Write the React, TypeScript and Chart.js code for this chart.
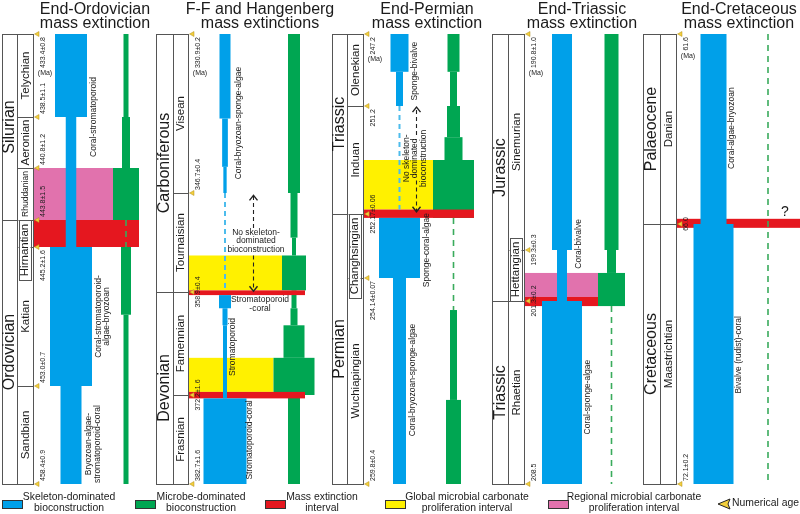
import React, { useEffect, useRef } from "react";
import { Chart, LinearScale, registerables } from "chart.js";

Chart.register(...registerables);

// ---------------- DATA ----------------
// Panel 1: End-Ordovician
const ORD_TITLE = ["End-Ordovician", "mass extinction"];
const ORD_BOUNDARIES = [433.4, 438.5, 440.8, 443.8, 445.2, 453.0, 458.4];
const ORD_AGE_LABELS = ["433.4±0.8", "438.5±1.1", "440.8±1.2", "443.8±1.5", "445.2±1.6", "453.0±0.7", "458.4±0.9"];
const ORD_SYSTEMS = [
  { name: "Silurian", from: 433.4, to: 443.8 },
  { name: "Ordovician", from: 443.8, to: 458.4 },
];
const ORD_STAGES = [
  { name: "Telychian", from: 433.4, to: 438.5 },
  { name: "Aeronian", from: 438.5, to: 440.8 },
  { name: "Rhuddanian", from: 440.8, to: 443.8 },
  { name: "Hirnantian", from: 443.8, to: 445.2 },
  { name: "Katian", from: 445.2, to: 453.0 },
  { name: "Sandbian", from: 453.0, to: 458.4 },
];
// [from age, to age, relative extent]
const ORD_SKELETON = [[433.4, 438.5, 32], [438.5, 445.2, 10.5], [445.2, 453.0, 42], [453.0, 458.4, 21]];
const ORD_SKELETON_ABSENT: number[][] = [];
const ORD_MICROBE = [[433.4, 438.5, 5], [438.5, 440.8, 8], [440.8, 443.8, 26], [445.2, 449.0, 10], [449.0, 458.4, 5]];
const ORD_MICROBE_UNCERTAIN = [[443.8, 445.2]];
const ORD_EXTINCTION = [[443.8, 445.2]];
const ORD_GLOBAL: number[][] = [];
const ORD_REGIONAL = [[440.8, 443.8]];
const ORD_NOTES = [
  { lines: ["Coral-stromatoporoid"], age: 438.5, x: 93.5, rot: true },
  { lines: ["Coral-stromatoporoid-", "algae-bryozoan"], age: 449.1, x: 102.5, rot: true },
  { lines: ["Bryozoan-algae-", "stromatoporoid-coral"], age: 456.2, x: 93, rot: true },
];

// Panel 2: F-F and Hangenberg
const DEV_TITLE = ["F-F and Hangenberg", "mass extinctions"];
const DEV_BOUNDARIES = [330.9, 346.7, 358.9, 372.2, 382.7];
const DEV_AGE_LABELS = ["330.9±0.2", "346.7±0.4", "358.9±0.4", "372.2±1.6", "382.7±1.6"];
const DEV_SYSTEMS = [
  { name: "Carboniferous", from: 330.9, to: 358.9 },
  { name: "Devonian", from: 358.9, to: 382.7 },
];
const DEV_STAGES = [
  { name: "Visean", from: 330.9, to: 346.7 },
  { name: "Tournaisian", from: 346.7, to: 358.9 },
  { name: "Famennian", from: 358.9, to: 372.2 },
  { name: "Frasnian", from: 372.2, to: 382.7 },
];
const DEV_SKELETON = [
  [330.9, 339.3, 11], [339.3, 344.1, 5.7], [344.1, 346.7, 3.3],
  [359.3, 361.0, 12], [361.0, 363.2, 5], [363.2, 372.6, 4], [372.6, 382.7, 43],
];
const DEV_SKELETON_ABSENT = [[346.7, 358.7]];
const DEV_MICROBE = [
  [330.9, 346.7, 12], [346.7, 352.2, 7], [352.2, 354.4, 4], [354.4, 358.7, 24],
  [358.7, 361.0, 5], [361.0, 363.2, 7], [363.2, 367.4, 21], [367.4, 372.2, 41], [372.2, 382.7, 12],
];
const DEV_MICROBE_UNCERTAIN: number[][] = [];
const DEV_EXTINCTION = [[358.7, 359.3], [371.8, 372.6]];
const DEV_GLOBAL = [[354.4, 358.7], [367.4, 371.8]];
const DEV_REGIONAL: number[][] = [];
const DEV_NOTES = [
  { lines: ["Coral-bryozoan-sponge-algae"], age: 339.75, x: 238.5, rot: true },
  { lines: ["No skeleton-", "dominated", "bioconstruction"], age: 352.6, x: 256, rot: false },
  { lines: ["Stromatoporoid", "-coral"], age: 360.45, x: 260, rot: false },
  { lines: ["Stromatoporoid"], age: 366.0, x: 233, rot: true },
  { lines: ["Stromatoporoid-coral"], age: 377.5, x: 250, rot: true },
];
const DEV_ARROWS = [
  { x: 253, from: 351.0, to: 347.0 },
  { x: 253, from: 354.4, to: 358.8 },
];

// Panel 3: End-Permian
const PER_TITLE = ["End-Permian", "mass extinction"];
const PER_BOUNDARIES = [247.2, 251.2, 252.17, 254.14, 259.8];
const PER_AGE_LABELS = ["247.2", "251.2", "252.17±0.06", "254.14±0.07", "259.8±0.4"];
const PER_SYSTEMS = [
  { name: "Triassic", from: 247.2, to: 252.17 },
  { name: "Permian", from: 252.17, to: 259.8 },
];
const PER_STAGES = [
  { name: "Olenekian", from: 247.2, to: 251.2 },
  { name: "Induan", from: 251.2, to: 252.17 },
  { name: "Changhsingian", from: 252.17, to: 254.14 },
  { name: "Wuchiapingian", from: 254.14, to: 259.8 },
];
const PER_SKELETON = [[247.2, 249.3, 18], [249.3, 251.2, 7], [252.29, 254.14, 41], [254.14, 259.8, 13]];
const PER_SKELETON_ABSENT = [[251.2, 252.13]];
const PER_MICROBE = [
  [247.2, 249.3, 12], [249.3, 251.2, 7], [251.2, 251.48, 13], [251.48, 251.685, 18],
  [251.685, 252.29, 41], [255.02, 257.49, 7], [257.49, 259.8, 15],
];
const PER_MICROBE_UNCERTAIN = [[252.29, 255.02]];
const PER_EXTINCTION = [[252.13, 252.29]];
const PER_GLOBAL = [[251.685, 252.13]];
const PER_REGIONAL: number[][] = [];
const PER_NOTES = [
  { lines: ["Sponge-bivalve"], age: 249.26, x: 415, rot: true },
  { lines: ["No skeleton-", "dominated", "bioconstruction"], age: 251.67, x: 415, rot: true },
  { lines: ["Sponge-coral-algae"], age: 253.28, x: 427, rot: true },
  { lines: ["Coral-bryozoan-sponge-algae"], age: 256.94, x: 413, rot: true },
];
const PER_ARROWS = [
  { x: 416, from: 251.46, to: 251.21 },
  { x: 416, from: 251.87, to: 252.15 },
];

// Panel 4: End-Triassic
const TRI_TITLE = ["End-Triassic", "mass extinction"];
const TRI_BOUNDARIES = [190.8, 199.3, 201.3, 208.5];
const TRI_AGE_LABELS = ["190.8±1.0", "199.3±0.3", "201.3±0.2", "208.5"];
const TRI_SYSTEMS = [
  { name: "Jurassic", from: 190.8, to: 201.3 },
  { name: "Triassic", from: 201.3, to: 208.5 },
];
const TRI_STAGES = [
  { name: "Sinemurian", from: 190.8, to: 199.3 },
  { name: "Hettangian", from: 199.3, to: 201.3 },
  { name: "Rhaetian", from: 201.3, to: 208.5 },
];
const TRI_SKELETON = [[190.8, 199.3, 20], [199.3, 201.3, 10], [201.3, 208.5, 40]];
const TRI_SKELETON_ABSENT: number[][] = [];
const TRI_MICROBE = [[190.8, 199.3, 14], [199.3, 200.2, 9], [200.2, 201.5, 27]];
const TRI_MICROBE_UNCERTAIN = [[201.5, 208.5]];
const TRI_EXTINCTION = [[201.14, 201.5]];
const TRI_GLOBAL: number[][] = [];
const TRI_REGIONAL = [[200.2, 201.14]];
const TRI_NOTES = [
  { lines: ["Coral-bivalve"], age: 199.06, x: 579, rot: true },
  { lines: ["Coral-sponge-algae"], age: 205.08, x: 588, rot: true },
];

// Panel 5: End-Cretaceous
const CRE_TITLE = ["End-Cretaceous", "mass extinction"];
const CRE_BOUNDARIES = [61.6, 66.0, 72.1];
const CRE_AGE_LABELS = ["61.6", "66.0", "72.1±0.2"];
const CRE_SYSTEMS = [
  { name: "Palaeocene", from: 61.6, to: 66.0 },
  { name: "Cretaceous", from: 66.0, to: 72.1 },
];
const CRE_STAGES = [
  { name: "Danian", from: 61.6, to: 66.0 },
  { name: "Maastrichtian", from: 66.0, to: 72.1 },
];
const CRE_SKELETON = [[61.6, 66.0, 26], [66.0, 72.1, 40]];
const CRE_SKELETON_ABSENT: number[][] = [];
const CRE_MICROBE: number[][] = [];
const CRE_MICROBE_UNCERTAIN = [[61.6, 72.1]];
const CRE_EXTINCTION = [[65.88, 66.09]];
const CRE_GLOBAL: number[][] = [];
const CRE_REGIONAL: number[][] = [];
const CRE_NOTES = [
  { lines: ["Coral-algae-bryozoan"], age: 63.78, x: 732, rot: true },
  { lines: ["Bivalve (rudist)-coral"], age: 69.07, x: 739, rot: true },
  { lines: ["?"], age: 65.72, x: 785, rot: false, size: 14 },
];

const LEGEND_TEXT = [
  ["Skeleton-dominated", "bioconstruction"],
  ["Microbe-dominated", "bioconstruction"],
  ["Mass extinction", "interval"],
  ["Global microbial carbonate", "proliferation interval"],
  ["Regional microbial carbonate", "proliferation interval"],
  ["Numerical age"],
];

// ---------------- STYLE / LAYOUT ----------------
const BLUE = "#00a0e9";
const BLUE_DASH = "#4dbcec";
const GREEN = "#00a652";
const GREEN_DASH = "#3aab5c";
const RED = "#e5171f";
const YELLOW = "#fff100";
const PINK = "#e172ad";
const AGE_MARK = "#f2cf3c";
const TEXT = "#1b1b1b";
const LINE = "#555555";
const FONT = '"Liberation Sans", Arial, Helvetica, sans-serif';
const fnt = (s: number) => `${s}px ${FONT}`;

const LEGEND_COLORS = [BLUE, GREEN, RED, YELLOW, PINK, AGE_MARK];
const LEGEND_FONT = 10.4;
const LEGEND_LAYOUT = [
  { sw: 2, tx: 69 }, { sw: 135, tx: 201 }, { sw: 265, tx: 322 },
  { sw: 385, tx: 467 }, { sw: 548, tx: 634 }, { sw: 718, tx: 732 },
];

const ORD_LAYOUT = {
  col: [2, 17, 33], skeletonX: 71, microbeX: 126, titleX: 95,
  heights: [83, 51, 52, 27, 139, 98],
  ageAlign: ["below", "above", "above", "above", "below", "above", "above"],
  extinctionRight: [139], globalRight: [] as number[], regionalRight: [113],
  boxes: { Hirnantian: { up: 0, down: 33 } } as any,
  stageFont: { Rhuddanian: 8.5 } as any,
};
const DEV_LAYOUT = {
  col: [156, 173, 188], skeletonX: 225, microbeX: 294, titleX: 260,
  heights: [159, 99, 103, 89],
  ageAlign: ["below", "above", "center", "center", "above"],
  extinctionRight: [305, 305], globalRight: [282, 273.5], regionalRight: [] as number[],
  boxes: {} as any, stageFont: {} as any,
};
const PER_LAYOUT = {
  col: [332, 347, 363], skeletonX: 399.5, microbeX: 453.5, titleX: 427,
  heights: [72, 108, 64, 206],
  ageAlign: ["below", "below", "center", "below", "above"],
  extinctionRight: [474], globalRight: [433], regionalRight: [] as number[],
  boxes: { Changhsingian: { up: 0, down: 20 } } as any, stageFont: {} as any,
};
const TRI_LAYOUT = {
  col: [492, 508, 524], skeletonX: 562, microbeX: 611.5, titleX: 582,
  heights: [216, 51, 183],
  ageAlign: ["below", "center", "center", "above"],
  extinctionRight: [598], globalRight: [] as number[], regionalRight: [598],
  boxes: { Hettangian: { up: 12, down: 0 } } as any, stageFont: {} as any,
};
const CRE_LAYOUT = {
  col: [643, 660, 676], skeletonX: 713.5, microbeX: 768, titleX: 739,
  heights: [190, 260],
  ageAlign: ["below", "center", "above"],
  extinctionRight: [800], globalRight: [] as number[], regionalRight: [] as number[],
  boxes: {} as any, stageFont: {} as any,
};

const PANELS = [
  { title: ORD_TITLE, boundaries: ORD_BOUNDARIES, ageLabels: ORD_AGE_LABELS, systems: ORD_SYSTEMS, stages: ORD_STAGES,
    skeleton: ORD_SKELETON, skeletonAbsent: ORD_SKELETON_ABSENT, microbe: ORD_MICROBE, microbeUncertain: ORD_MICROBE_UNCERTAIN,
    extinction: ORD_EXTINCTION, global: ORD_GLOBAL, regional: ORD_REGIONAL, notes: ORD_NOTES, arrows: [] as any[], layout: ORD_LAYOUT },
  { title: DEV_TITLE, boundaries: DEV_BOUNDARIES, ageLabels: DEV_AGE_LABELS, systems: DEV_SYSTEMS, stages: DEV_STAGES,
    skeleton: DEV_SKELETON, skeletonAbsent: DEV_SKELETON_ABSENT, microbe: DEV_MICROBE, microbeUncertain: DEV_MICROBE_UNCERTAIN,
    extinction: DEV_EXTINCTION, global: DEV_GLOBAL, regional: DEV_REGIONAL, notes: DEV_NOTES, arrows: DEV_ARROWS, layout: DEV_LAYOUT },
  { title: PER_TITLE, boundaries: PER_BOUNDARIES, ageLabels: PER_AGE_LABELS, systems: PER_SYSTEMS, stages: PER_STAGES,
    skeleton: PER_SKELETON, skeletonAbsent: PER_SKELETON_ABSENT, microbe: PER_MICROBE, microbeUncertain: PER_MICROBE_UNCERTAIN,
    extinction: PER_EXTINCTION, global: PER_GLOBAL, regional: PER_REGIONAL, notes: PER_NOTES, arrows: PER_ARROWS, layout: PER_LAYOUT },
  { title: TRI_TITLE, boundaries: TRI_BOUNDARIES, ageLabels: TRI_AGE_LABELS, systems: TRI_SYSTEMS, stages: TRI_STAGES,
    skeleton: TRI_SKELETON, skeletonAbsent: TRI_SKELETON_ABSENT, microbe: TRI_MICROBE, microbeUncertain: TRI_MICROBE_UNCERTAIN,
    extinction: TRI_EXTINCTION, global: TRI_GLOBAL, regional: TRI_REGIONAL, notes: TRI_NOTES, arrows: [] as any[], layout: TRI_LAYOUT },
  { title: CRE_TITLE, boundaries: CRE_BOUNDARIES, ageLabels: CRE_AGE_LABELS, systems: CRE_SYSTEMS, stages: CRE_STAGES,
    skeleton: CRE_SKELETON, skeletonAbsent: CRE_SKELETON_ABSENT, microbe: CRE_MICROBE, microbeUncertain: CRE_MICROBE_UNCERTAIN,
    extinction: CRE_EXTINCTION, global: CRE_GLOBAL, regional: CRE_REGIONAL, notes: CRE_NOTES, arrows: [] as any[], layout: CRE_LAYOUT },
];

// ---------------- STAGE (piecewise) SCALE ----------------
const STAGE_MAPS: Record<string, { ages: number[]; heights: number[] }> = {};
PANELS.forEach((p, i) => {
  STAGE_MAPS["y" + i] = { ages: p.boundaries, heights: p.layout.heights };
});

class StageScale extends LinearScale {
  static id = "stage";
  static defaults = {};
  getPixelForValue(value: number) {
    const m = STAGE_MAPS[(this as any).id];
    if (!m || value === null || value === undefined || isNaN(value)) return super.getPixelForValue(value);
    const { ages, heights } = m;
    const total = heights.reduce((a, b) => a + b, 0);
    let acc = 0;
    for (let i = 0; i < ages.length - 1; i++) {
      if (value <= ages[i + 1] || i === ages.length - 2) {
        const f = (value - ages[i]) / (ages[i + 1] - ages[i]);
        return (this as any).getPixelForDecimal((acc + f * heights[i]) / total);
      }
      acc += heights[i];
    }
    return super.getPixelForValue(value);
  }
  getValueForPixel(pixel: number) {
    const m = STAGE_MAPS[(this as any).id];
    if (!m) return super.getValueForPixel(pixel);
    const { ages, heights } = m;
    const total = heights.reduce((a, b) => a + b, 0);
    const d = (this as any).getDecimalForPixel(pixel) * total;
    let acc = 0;
    for (let i = 0; i < heights.length; i++) {
      if (d <= acc + heights[i] || i === heights.length - 1) {
        return ages[i] + ((d - acc) / heights[i]) * (ages[i + 1] - ages[i]);
      }
      acc += heights[i];
    }
    return ages[ages.length - 1];
  }
}
Chart.register(StageScale as any);

// ---------------- DRAWING ----------------
function vText(ctx: CanvasRenderingContext2D, text: string, x: number, y: number, align: CanvasTextAlign = "center") {
  ctx.save();
  ctx.translate(x, y);
  ctx.rotate(-Math.PI / 2);
  ctx.textAlign = align;
  ctx.textBaseline = "middle";
  ctx.fillText(text, 0, 0);
  ctx.restore();
}

function drawPanel(ctx: CanvasRenderingContext2D, ys: any, X: (v: number) => number, p: any) {
  const Y = (a: number) => ys.getPixelForValue(a);
  const L = p.layout;
  const [cL, cM, cR] = L.col.map(X);
  const top = Y(p.boundaries[0]);
  const bottom = Y(p.boundaries[p.boundaries.length - 1]);

  // titles
  ctx.fillStyle = TEXT;
  ctx.font = fnt(16);
  ctx.textAlign = "center";
  ctx.textBaseline = "alphabetic";
  ctx.fillText(p.title[0], X(L.titleX), 14);
  ctx.fillText(p.title[1], X(L.titleX), 28);

  const band = (b: number[], right: number, color: string) => {
    ctx.fillStyle = color;
    const y0 = Y(b[0]), y1 = Y(b[1]);
    ctx.fillRect(cR, y0, X(right) - cR, y1 - y0);
  };
  const column = (s: number[], cx: number, color: string) => {
    const x0 = X(cx - s[2] / 2), x1 = X(cx + s[2] / 2);
    const y0 = Y(s[0]), y1 = Y(s[1]);
    ctx.fillStyle = color;
    ctx.fillRect(x0, y0, x1 - x0, y1 - y0);
  };
  const dashed = (s: number[], cx: number, color: string, w: number, dash: number[]) => {
    ctx.save();
    ctx.strokeStyle = color;
    ctx.lineWidth = w;
    ctx.setLineDash(dash);
    ctx.beginPath();
    ctx.moveTo(X(cx), Y(s[0]));
    ctx.lineTo(X(cx), Y(s[1]));
    ctx.stroke();
    ctx.restore();
  };

  p.global.forEach((b: number[], k: number) => band(b, L.globalRight[k], YELLOW));
  p.regional.forEach((b: number[], k: number) => band(b, L.regionalRight[k], PINK));
  p.microbe.forEach((s: number[]) => column(s, L.microbeX, GREEN));
  p.extinction.forEach((b: number[], k: number) => band(b, L.extinctionRight[k], RED));
  p.microbeUncertain.forEach((s: number[]) => dashed(s, L.microbeX, GREEN_DASH, 1.6, [6, 5]));
  p.skeleton.forEach((s: number[]) => column(s, L.skeletonX, BLUE));
  p.skeletonAbsent.forEach((s: number[]) => dashed(s, L.skeletonX, BLUE_DASH, 2, [5, 4]));

  // stratigraphic column
  ctx.fillStyle = "#ffffff";
  ctx.fillRect(cL, top, cR - cL, bottom - top);
  ctx.strokeStyle = LINE;
  ctx.lineWidth = 1;
  ctx.strokeRect(cL + 0.5, top + 0.5, cR - cL, bottom - top);
  ctx.beginPath();
  ctx.moveTo(cM + 0.5, top);
  ctx.lineTo(cM + 0.5, bottom);
  p.systems.slice(0, -1).forEach((s: any) => {
    const y = Math.round(Y(s.to)) + 0.5;
    ctx.moveTo(cL, y);
    ctx.lineTo(cR, y);
  });
  p.stages.slice(0, -1).forEach((s: any) => {
    const y = Math.round(Y(s.to)) + 0.5;
    ctx.moveTo(cM, y);
    ctx.lineTo(cR, y);
  });
  ctx.stroke();

  // system names
  ctx.fillStyle = TEXT;
  ctx.font = fnt(16);
  p.systems.forEach((s: any) => vText(ctx, s.name, (cL + cM) / 2 + 0.5, (Y(s.from) + Y(s.to)) / 2));

  // stage names (some in boxes)
  p.stages.forEach((s: any) => {
    const box = L.boxes[s.name];
    let y0 = Y(s.from), y1 = Y(s.to);
    let cx = (cM + cR) / 2 + 0.5;
    if (box) {
      y0 -= box.up;
      y1 += box.down;
      const bx0 = cM + 1.5, bx1 = cR - 2.5;
      ctx.fillStyle = "#ffffff";
      ctx.fillRect(bx0, y0, bx1 - bx0, y1 - y0);
      ctx.strokeStyle = LINE;
      ctx.lineWidth = 1;
      ctx.strokeRect(Math.round(bx0) + 0.5, Math.round(y0) + 0.5, Math.round(bx1 - bx0), Math.round(y1 - y0));
      cx = (bx0 + bx1) / 2 + 0.5;
    }
    ctx.fillStyle = TEXT;
    ctx.font = fnt(L.stageFont[s.name] || 11.5);
    vText(ctx, s.name, cx, (y0 + y1) / 2);
  });

  // numerical age marks and labels
  const ax = cR + 10;
  p.boundaries.forEach((a: number) => {
    const y = Y(a);
    ctx.fillStyle = AGE_MARK;
    ctx.strokeStyle = "#b08d1c";
    ctx.lineWidth = 0.5;
    ctx.beginPath();
    ctx.moveTo(cR + 1.5, y);
    ctx.lineTo(cR + 6, y - 2.5);
    ctx.lineTo(cR + 6, y + 2.5);
    ctx.closePath();
    ctx.fill();
    ctx.stroke();
  });
  ctx.fillStyle = TEXT;
  ctx.font = fnt(7);
  p.boundaries.forEach((a: number, k: number) => {
    const y = Y(a);
    const al = L.ageAlign[k];
    if (al === "below") vText(ctx, p.ageLabels[k], ax, y + 3, "right");
    else if (al === "above") vText(ctx, p.ageLabels[k], ax, y - 3, "left");
    else vText(ctx, p.ageLabels[k], ax, y, "center");
  });
  const w0 = ctx.measureText(p.ageLabels[0]).width;
  ctx.font = fnt(7);
  ctx.textAlign = "center";
  ctx.textBaseline = "middle";
  ctx.fillText("(Ma)", ax + 2, top + 3 + w0 + 5);

  // annotations
  p.notes.forEach((n: any) => {
    const size = n.size || 8.5;
    const lh = 8.5;
    ctx.fillStyle = TEXT;
    ctx.font = fnt(size);
    const y = Y(n.age);
    const cnt = n.lines.length;
    n.lines.forEach((t: string, j: number) => {
      const off = (j - (cnt - 1) / 2) * lh;
      if (n.rot) vText(ctx, t, X(n.x) + off, y);
      else {
        ctx.textAlign = "center";
        ctx.textBaseline = "middle";
        ctx.fillText(t, X(n.x), y + off);
      }
    });
  });

  // arrows
  p.arrows.forEach((ar: any) => {
    const x = X(ar.x) + 0.5;
    const y0 = Y(ar.from), y1 = Y(ar.to);
    const dir = y1 > y0 ? 1 : -1;
    ctx.save();
    ctx.strokeStyle = "#222";
    ctx.lineWidth = 1.1;
    ctx.setLineDash([4, 3]);
    ctx.beginPath();
    ctx.moveTo(x, y0);
    ctx.lineTo(x, y1);
    ctx.stroke();
    ctx.setLineDash([]);
    ctx.lineWidth = 1.4;
    ctx.beginPath();
    ctx.moveTo(x - 4, y1 - dir * 5);
    ctx.lineTo(x, y1);
    ctx.lineTo(x + 4, y1 - dir * 5);
    ctx.stroke();
    ctx.restore();
  });
}

function drawLegend(ctx: CanvasRenderingContext2D) {
  LEGEND_TEXT.forEach((lines, i) => {
    const lay = LEGEND_LAYOUT[i];
    const color = LEGEND_COLORS[i];
    if (i === LEGEND_TEXT.length - 1) {
      ctx.fillStyle = color;
      ctx.strokeStyle = "#222";
      ctx.lineWidth = 1;
      ctx.beginPath();
      ctx.moveTo(lay.sw, 504);
      ctx.lineTo(lay.sw + 12, 499);
      ctx.lineTo(lay.sw + 10, 504);
      ctx.lineTo(lay.sw + 12, 509);
      ctx.closePath();
      ctx.fill();
      ctx.stroke();
      ctx.fillStyle = TEXT;
      ctx.font = fnt(LEGEND_FONT);
      ctx.textAlign = "left";
      ctx.textBaseline = "middle";
      ctx.fillText(lines[0], lay.tx, 503);
      return;
    }
    ctx.fillStyle = color;
    ctx.fillRect(lay.sw, 500, 20, 8);
    ctx.strokeStyle = "#333";
    ctx.lineWidth = 1;
    ctx.strokeRect(lay.sw + 0.5, 500.5, 20, 8);
    ctx.fillStyle = TEXT;
    ctx.font = fnt(LEGEND_FONT);
    ctx.textAlign = "center";
    ctx.textBaseline = "middle";
    ctx.fillText(lines[0], lay.tx, 497);
    ctx.fillText(lines[1], lay.tx, 508.5);
  });
}

const diagramPlugin = {
  id: "extinctionDiagram",
  afterDraw(chart: any) {
    const ctx: CanvasRenderingContext2D = chart.ctx;
    const xs = chart.scales.x;
    const X = (v: number) => xs.getPixelForValue(v);
    ctx.save();
    PANELS.forEach((p, i) => drawPanel(ctx, chart.scales["y" + i], X, p));
    drawLegend(ctx);
    ctx.restore();
  },
};

export default function App() {
  const ref = useRef<HTMLCanvasElement | null>(null);
  useEffect(() => {
    if (!ref.current) return;
    const scales: any = { x: { type: "linear", min: 0, max: 800, display: false } };
    PANELS.forEach((p, i) => {
      scales["y" + i] = {
        type: "stage",
        axis: "y",
        position: "left",
        min: p.boundaries[0],
        max: p.boundaries[p.boundaries.length - 1],
        reverse: true,
        display: false,
      };
    });
    const chart = new Chart(ref.current, {
      type: "scatter",
      data: { datasets: [] },
      options: {
        animation: false,
        responsive: false,
        events: [],
        layout: { padding: { top: 34, bottom: 30, left: 0, right: 0 } },
        plugins: { legend: { display: false }, tooltip: { enabled: false }, title: { display: false } },
        scales,
      },
      plugins: [diagramPlugin],
    } as any);
    return () => chart.destroy();
  }, []);
  return (
    <div style={{ position: "absolute", left: 0, top: 0, width: 800, height: 514, background: "#fff" }}>
      <canvas ref={ref} width={800} height={514} />
    </div>
  );
}
